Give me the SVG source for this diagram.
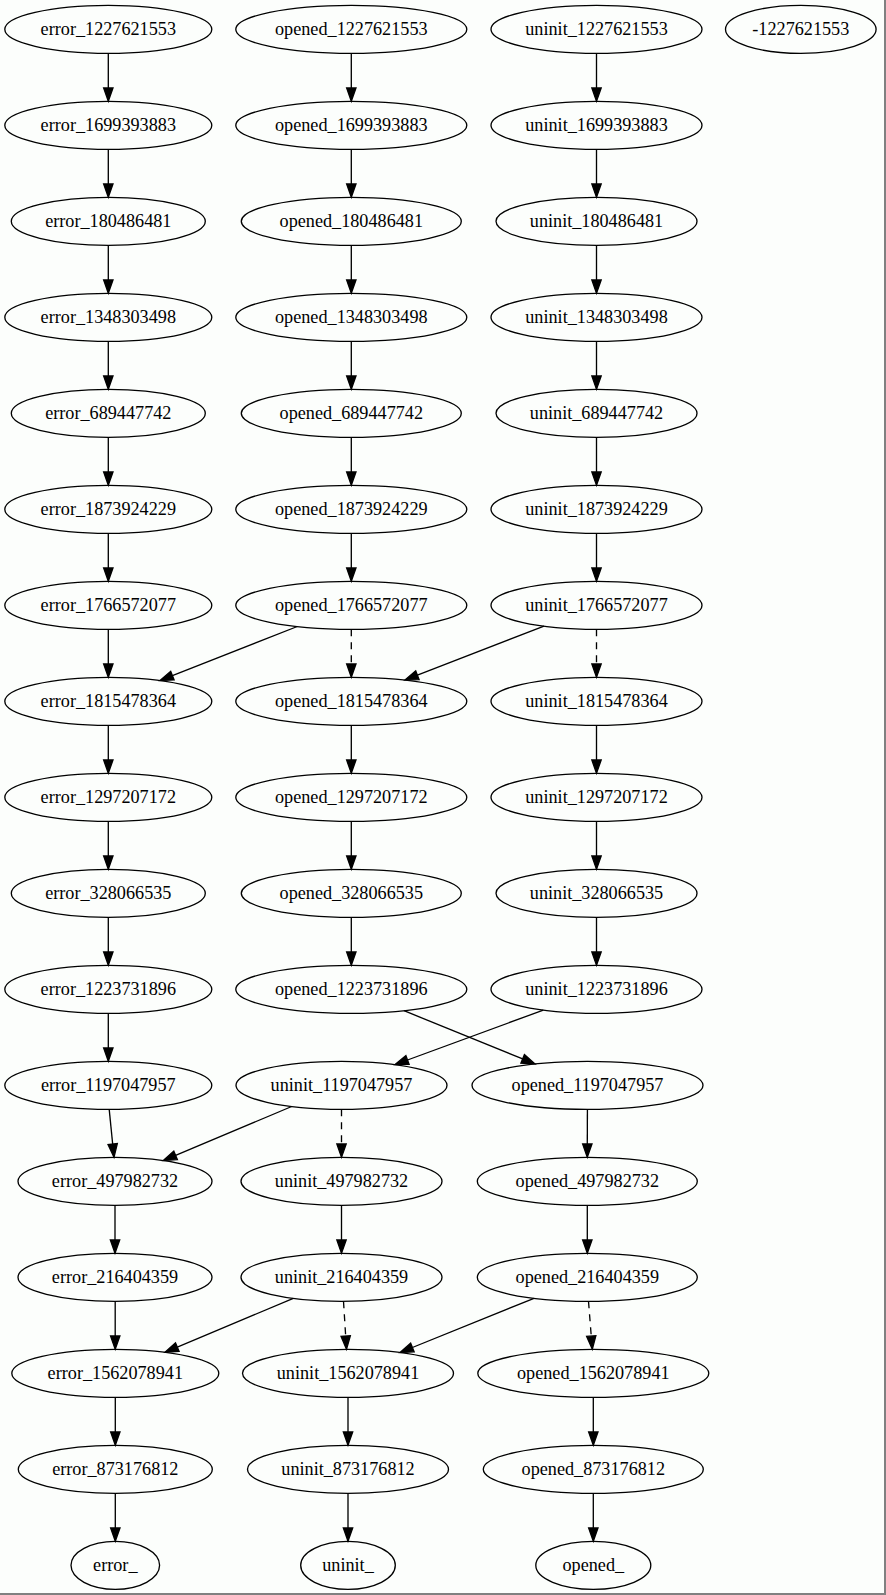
<svg xmlns="http://www.w3.org/2000/svg" width="886" height="1595" viewBox="0 0 886 1595">
  <style>
    .node ellipse { fill: none; stroke: #000; stroke-width: 1.33; }
    .node text { font-family: "Liberation Serif", "Times New Roman", serif; font-size: 18.2px; text-anchor: middle; fill: #000; }
    .edge { fill: none; stroke: #000; stroke-width: 1.33; marker-end: url(#arrow); }
    .dashed { stroke-dasharray: 7 6; }
  </style>
  <defs>
    <marker id="arrow" markerUnits="userSpaceOnUse" markerWidth="16" markerHeight="12" refX="0" refY="4.67" orient="auto" overflow="visible">
      <polygon points="0,0 13.33,4.67 0,9.33" fill="#000" stroke="#000" stroke-width="1.33"/>
    </marker>
  </defs>

  <!-- canvas and frame -->
  <rect x="0" y="0" width="886" height="1595" fill="#fcfefc"/>
  <line x1="885" y1="0" x2="885" y2="1595" stroke="#808080" stroke-width="2"/>
  <line x1="0" y1="1594" x2="886" y2="1594" stroke="#808080" stroke-width="2"/>

  <!-- connectors -->
  <g id="edges">
    <!-- error column -->
    <path class="edge" d="M108.3,53.33 L108.3,88"/>
    <path class="edge" d="M108.3,149.33 L108.3,184"/>
    <path class="edge" d="M108.3,245.33 L108.3,280"/>
    <path class="edge" d="M108.3,341.33 L108.3,376"/>
    <path class="edge" d="M108.3,437.33 L108.3,472"/>
    <path class="edge" d="M108.3,533.33 L108.3,568"/>
    <path class="edge" d="M108.3,629.33 L108.3,664"/>
    <path class="edge" d="M108.3,725.33 L108.3,760"/>
    <path class="edge" d="M108.3,821.33 L108.3,856"/>
    <path class="edge" d="M108.3,917.33 L108.3,952"/>
    <path class="edge" d="M108.3,1013.33 L108.3,1048"/>
    <path class="edge" d="M109.2,1109.33 L112.67,1144.04"/>
    <path class="edge" d="M115,1205.33 L115,1240"/>
    <path class="edge" d="M115.2,1301.33 L115.2,1336"/>
    <path class="edge" d="M115.3,1397.33 L115.3,1432"/>
    <path class="edge" d="M115.3,1493.33 L115.3,1528"/>

    <!-- opened column -->
    <path class="edge" d="M351.3,53.33 L351.3,88"/>
    <path class="edge" d="M351.3,149.33 L351.3,184"/>
    <path class="edge" d="M351.3,245.33 L351.3,280"/>
    <path class="edge" d="M351.3,341.33 L351.3,376"/>
    <path class="edge" d="M351.3,437.33 L351.3,472"/>
    <path class="edge" d="M351.3,533.33 L351.3,568"/>
    <path class="edge dashed" d="M351.3,629.33 L351.3,664"/>
    <path class="edge" d="M297.3,626.5 L172.4,675.6"/>
    <path class="edge" d="M351.3,725.33 L351.3,760"/>
    <path class="edge" d="M351.3,821.33 L351.3,856"/>
    <path class="edge" d="M351.3,917.33 L351.3,952"/>
    <path class="edge" d="M404,1010.7 L522.65,1058.9"/>
    <path class="edge" d="M587.4,1109.33 L587.3,1144"/>
    <path class="edge" d="M587.3,1205.33 L587.3,1240"/>
    <path class="edge dashed" d="M588.5,1301.33 L591.25,1336.04"/>
    <path class="edge" d="M534,1298.3 L412.4,1347.5"/>
    <path class="edge" d="M593.3,1397.33 L593.3,1432"/>
    <path class="edge" d="M593.3,1493.33 L593.3,1528"/>

    <!-- uninit column -->
    <path class="edge" d="M596.5,53.33 L596.5,88"/>
    <path class="edge" d="M596.5,149.33 L596.5,184"/>
    <path class="edge" d="M596.5,245.33 L596.5,280"/>
    <path class="edge" d="M596.5,341.33 L596.5,376"/>
    <path class="edge" d="M596.5,437.33 L596.5,472"/>
    <path class="edge" d="M596.5,533.33 L596.5,568"/>
    <path class="edge dashed" d="M596.5,629.33 L596.5,664"/>
    <path class="edge" d="M544,626.1 L417.4,675.2"/>
    <path class="edge" d="M596.5,725.33 L596.5,760"/>
    <path class="edge" d="M596.5,821.33 L596.5,856"/>
    <path class="edge" d="M596.5,917.33 L596.5,952"/>
    <path class="edge" d="M543.3,1010.1 L407.5,1060"/>
    <path class="edge" d="M291.7,1106.5 L175.6,1155.3"/>
    <path class="edge dashed" d="M341.5,1109.33 L341.5,1144"/>
    <path class="edge" d="M341.5,1205.33 L341.5,1240"/>
    <path class="edge" d="M293.3,1298.4 L177.3,1347.1"/>
    <path class="edge dashed" d="M343.5,1301.33 L345.67,1336.03"/>
    <path class="edge" d="M348,1397.33 L348,1432"/>
    <path class="edge" d="M348,1493.33 L348,1528"/>
  </g>

  <!-- row 0 -->
  <g class="node" id="error_1227621553"><ellipse cx="108.3" cy="29.33" rx="103.5" ry="24"/><text x="108.3" y="35.33">error_1227621553</text></g>
  <g class="node" id="opened_1227621553"><ellipse cx="351.3" cy="29.33" rx="115.5" ry="24"/><text x="351.3" y="35.33">opened_1227621553</text></g>
  <g class="node" id="uninit_1227621553"><ellipse cx="596.5" cy="29.33" rx="105.5" ry="24"/><text x="596.5" y="35.33">uninit_1227621553</text></g>
  <g class="node" id="n_-1227621553"><ellipse cx="800.8" cy="29.33" rx="75.3" ry="24"/><text x="800.8" y="35.33">-1227621553</text></g>
  <!-- row 1 -->
  <g class="node" id="error_1699393883"><ellipse cx="108.3" cy="125.33" rx="103.5" ry="24"/><text x="108.3" y="131.33">error_1699393883</text></g>
  <g class="node" id="opened_1699393883"><ellipse cx="351.3" cy="125.33" rx="115.5" ry="24"/><text x="351.3" y="131.33">opened_1699393883</text></g>
  <g class="node" id="uninit_1699393883"><ellipse cx="596.5" cy="125.33" rx="105.5" ry="24"/><text x="596.5" y="131.33">uninit_1699393883</text></g>
  <!-- row 2 -->
  <g class="node" id="error_180486481"><ellipse cx="108.3" cy="221.33" rx="97" ry="24"/><text x="108.3" y="227.33">error_180486481</text></g>
  <g class="node" id="opened_180486481"><ellipse cx="351.3" cy="221.33" rx="110" ry="24"/><text x="351.3" y="227.33">opened_180486481</text></g>
  <g class="node" id="uninit_180486481"><ellipse cx="596.5" cy="221.33" rx="100.5" ry="24"/><text x="596.5" y="227.33">uninit_180486481</text></g>
  <!-- row 3 -->
  <g class="node" id="error_1348303498"><ellipse cx="108.3" cy="317.33" rx="103.5" ry="24"/><text x="108.3" y="323.33">error_1348303498</text></g>
  <g class="node" id="opened_1348303498"><ellipse cx="351.3" cy="317.33" rx="115.5" ry="24"/><text x="351.3" y="323.33">opened_1348303498</text></g>
  <g class="node" id="uninit_1348303498"><ellipse cx="596.5" cy="317.33" rx="105.5" ry="24"/><text x="596.5" y="323.33">uninit_1348303498</text></g>
  <!-- row 4 -->
  <g class="node" id="error_689447742"><ellipse cx="108.3" cy="413.33" rx="97" ry="24"/><text x="108.3" y="419.33">error_689447742</text></g>
  <g class="node" id="opened_689447742"><ellipse cx="351.3" cy="413.33" rx="110" ry="24"/><text x="351.3" y="419.33">opened_689447742</text></g>
  <g class="node" id="uninit_689447742"><ellipse cx="596.5" cy="413.33" rx="100.5" ry="24"/><text x="596.5" y="419.33">uninit_689447742</text></g>
  <!-- row 5 -->
  <g class="node" id="error_1873924229"><ellipse cx="108.3" cy="509.33" rx="103.5" ry="24"/><text x="108.3" y="515.33">error_1873924229</text></g>
  <g class="node" id="opened_1873924229"><ellipse cx="351.3" cy="509.33" rx="115.5" ry="24"/><text x="351.3" y="515.33">opened_1873924229</text></g>
  <g class="node" id="uninit_1873924229"><ellipse cx="596.5" cy="509.33" rx="105.5" ry="24"/><text x="596.5" y="515.33">uninit_1873924229</text></g>
  <!-- row 6 -->
  <g class="node" id="error_1766572077"><ellipse cx="108.3" cy="605.33" rx="103.5" ry="24"/><text x="108.3" y="611.33">error_1766572077</text></g>
  <g class="node" id="opened_1766572077"><ellipse cx="351.3" cy="605.33" rx="115.5" ry="24"/><text x="351.3" y="611.33">opened_1766572077</text></g>
  <g class="node" id="uninit_1766572077"><ellipse cx="596.5" cy="605.33" rx="105.5" ry="24"/><text x="596.5" y="611.33">uninit_1766572077</text></g>
  <!-- row 7 -->
  <g class="node" id="error_1815478364"><ellipse cx="108.3" cy="701.33" rx="103.5" ry="24"/><text x="108.3" y="707.33">error_1815478364</text></g>
  <g class="node" id="opened_1815478364"><ellipse cx="351.3" cy="701.33" rx="115.5" ry="24"/><text x="351.3" y="707.33">opened_1815478364</text></g>
  <g class="node" id="uninit_1815478364"><ellipse cx="596.5" cy="701.33" rx="105.5" ry="24"/><text x="596.5" y="707.33">uninit_1815478364</text></g>
  <!-- row 8 -->
  <g class="node" id="error_1297207172"><ellipse cx="108.3" cy="797.33" rx="103.5" ry="24"/><text x="108.3" y="803.33">error_1297207172</text></g>
  <g class="node" id="opened_1297207172"><ellipse cx="351.3" cy="797.33" rx="115.5" ry="24"/><text x="351.3" y="803.33">opened_1297207172</text></g>
  <g class="node" id="uninit_1297207172"><ellipse cx="596.5" cy="797.33" rx="105.5" ry="24"/><text x="596.5" y="803.33">uninit_1297207172</text></g>
  <!-- row 9 -->
  <g class="node" id="error_328066535"><ellipse cx="108.3" cy="893.33" rx="97" ry="24"/><text x="108.3" y="899.33">error_328066535</text></g>
  <g class="node" id="opened_328066535"><ellipse cx="351.3" cy="893.33" rx="110" ry="24"/><text x="351.3" y="899.33">opened_328066535</text></g>
  <g class="node" id="uninit_328066535"><ellipse cx="596.5" cy="893.33" rx="100.5" ry="24"/><text x="596.5" y="899.33">uninit_328066535</text></g>
  <!-- row 10 -->
  <g class="node" id="error_1223731896"><ellipse cx="108.3" cy="989.33" rx="103.5" ry="24"/><text x="108.3" y="995.33">error_1223731896</text></g>
  <g class="node" id="opened_1223731896"><ellipse cx="351.3" cy="989.33" rx="115.5" ry="24"/><text x="351.3" y="995.33">opened_1223731896</text></g>
  <g class="node" id="uninit_1223731896"><ellipse cx="596.5" cy="989.33" rx="105.5" ry="24"/><text x="596.5" y="995.33">uninit_1223731896</text></g>
  <!-- row 11 -->
  <g class="node" id="error_1197047957"><ellipse cx="108.3" cy="1085.33" rx="103.5" ry="24"/><text x="108.3" y="1091.33">error_1197047957</text></g>
  <g class="node" id="uninit_1197047957"><ellipse cx="341.5" cy="1085.33" rx="105.5" ry="24"/><text x="341.5" y="1091.33">uninit_1197047957</text></g>
  <g class="node" id="opened_1197047957"><ellipse cx="587.5" cy="1085.33" rx="115.5" ry="24"/><text x="587.5" y="1091.33">opened_1197047957</text></g>
  <!-- row 12 -->
  <g class="node" id="error_497982732"><ellipse cx="115" cy="1181.33" rx="97" ry="24"/><text x="115" y="1187.33">error_497982732</text></g>
  <g class="node" id="uninit_497982732"><ellipse cx="341.5" cy="1181.33" rx="100.5" ry="24"/><text x="341.5" y="1187.33">uninit_497982732</text></g>
  <g class="node" id="opened_497982732"><ellipse cx="587.3" cy="1181.33" rx="110" ry="24"/><text x="587.3" y="1187.33">opened_497982732</text></g>
  <!-- row 13 -->
  <g class="node" id="error_216404359"><ellipse cx="115" cy="1277.33" rx="97" ry="24"/><text x="115" y="1283.33">error_216404359</text></g>
  <g class="node" id="uninit_216404359"><ellipse cx="341.5" cy="1277.33" rx="100.5" ry="24"/><text x="341.5" y="1283.33">uninit_216404359</text></g>
  <g class="node" id="opened_216404359"><ellipse cx="587.3" cy="1277.33" rx="110" ry="24"/><text x="587.3" y="1283.33">opened_216404359</text></g>
  <!-- row 14 -->
  <g class="node" id="error_1562078941"><ellipse cx="115.3" cy="1373.33" rx="103.5" ry="24"/><text x="115.3" y="1379.33">error_1562078941</text></g>
  <g class="node" id="uninit_1562078941"><ellipse cx="348" cy="1373.33" rx="105.5" ry="24"/><text x="348" y="1379.33">uninit_1562078941</text></g>
  <g class="node" id="opened_1562078941"><ellipse cx="593.3" cy="1373.33" rx="115.5" ry="24"/><text x="593.3" y="1379.33">opened_1562078941</text></g>
  <!-- row 15 -->
  <g class="node" id="error_873176812"><ellipse cx="115.3" cy="1469.33" rx="97" ry="24"/><text x="115.3" y="1475.33">error_873176812</text></g>
  <g class="node" id="uninit_873176812"><ellipse cx="348" cy="1469.33" rx="100.5" ry="24"/><text x="348" y="1475.33">uninit_873176812</text></g>
  <g class="node" id="opened_873176812"><ellipse cx="593.3" cy="1469.33" rx="110" ry="24"/><text x="593.3" y="1475.33">opened_873176812</text></g>
  <!-- row 16: terminal states -->
  <g class="node" id="error_"><ellipse cx="115.3" cy="1565.33" rx="44.3" ry="24"/><text x="115.3" y="1571.33">error_</text></g>
  <g class="node" id="uninit_"><ellipse cx="348" cy="1565.33" rx="47.3" ry="24"/><text x="348" y="1571.33">uninit_</text></g>
  <g class="node" id="opened_"><ellipse cx="593.3" cy="1565.33" rx="57.5" ry="24"/><text x="593.3" y="1571.33">opened_</text></g>
</svg>
